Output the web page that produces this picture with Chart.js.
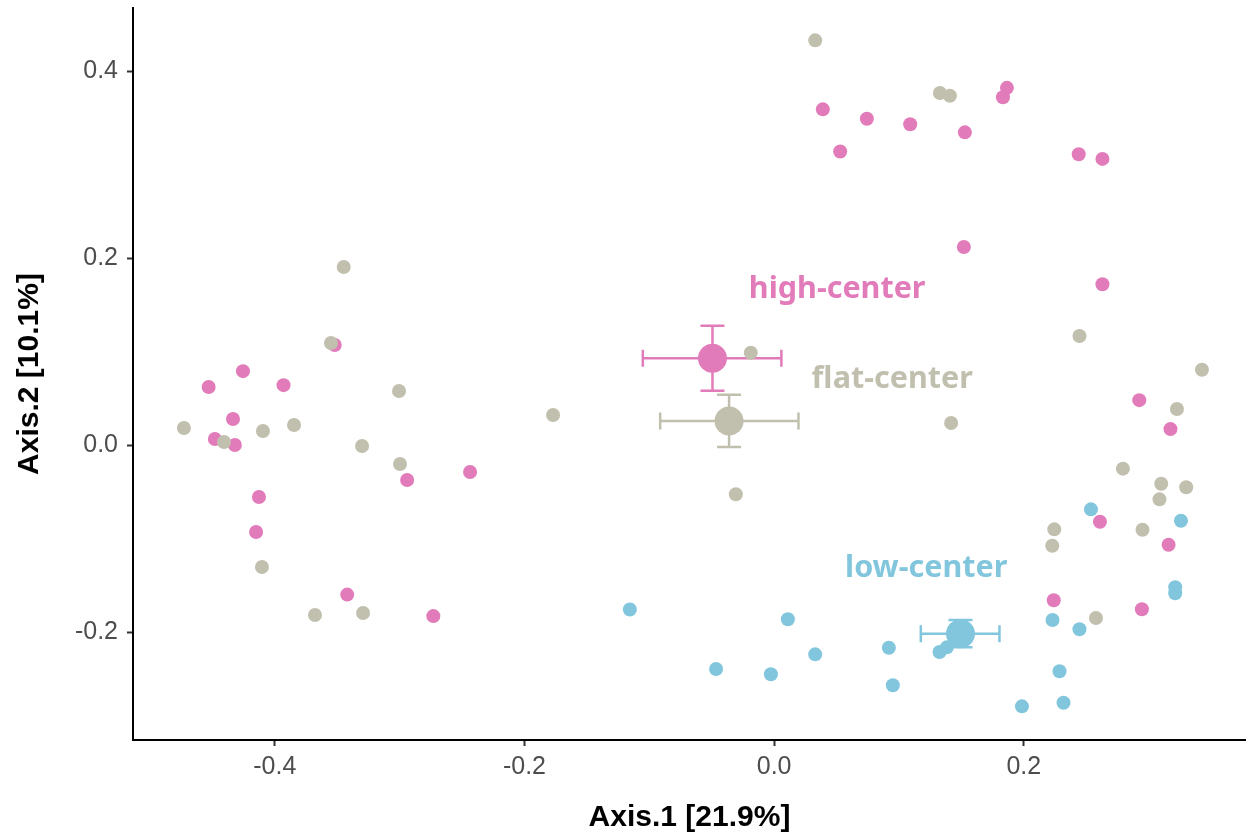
<!DOCTYPE html>
<html>
<head>
<meta charset="utf-8">
<script src="https://cdn.jsdelivr.net/npm/chart.js@4"></script>
<style>
  html, body { margin: 0; padding: 0; background: #fff; }
  canvas { display: block; }
</style>
</head>
<body>
<canvas id="pcoaChart" width="1246" height="839"></canvas>
<script>
// Groups and their colours
const groups = ['high-center', 'flat-center', 'low-center'];
const groupColors = ['#E27BBA', '#C1C0AE', '#82C6DD'];

// Sample scores (Axis.1, Axis.2)
const highX = [-0.352, -0.4255, -0.453, -0.393, -0.4335, -0.448, -0.432, -0.294, -0.2436, -0.4127, -0.415, -0.342, -0.273,
  0.039, 0.0743, 0.0529, 0.109, 0.1528, 0.1865, 0.1833, 0.244, 0.263, 0.152, 0.263, 0.2925, 0.3175, 0.261, 0.316, 0.224, 0.2946];
const highY = [0.107, 0.079, 0.062, 0.064, 0.0278, 0.0064, 0.000, -0.0374, -0.0289, -0.0556, -0.093, -0.160, -0.183,
  0.359, 0.349, 0.314, 0.343, 0.3344, 0.382, 0.372, 0.311, 0.306, 0.2118, 0.172, 0.048, 0.017, -0.082, -0.1066, -0.166, -0.1757];

const flatX = [0.0329, -0.3448, -0.355, -0.0187, -0.3005, -0.1771, -0.4728, -0.4407, -0.4095, -0.3846, -0.3301, -0.2997, -0.0307,
  -0.4103, -0.3678, -0.3293, 0.1328, 0.1408, 0.2446, 0.3427, 0.1418, 0.3227, 0.2794, 0.3101, 0.3301, 0.3087, 0.2951, 0.2244, 0.2228, 0.2578];
const flatY = [0.4328, 0.1904, 0.1091, 0.0987, 0.0578, 0.0321, 0.0182, 0.0032, 0.015, 0.0214, -0.0011, -0.0203, -0.0527,
  -0.1305, -0.1818, -0.1797, 0.3765, 0.3736, 0.1166, 0.0805, 0.0235, 0.0385, -0.0253, -0.0414, -0.0452, -0.0581, -0.0906, -0.0902, -0.1077, -0.185];

const lowX = [-0.1156, 0.011, -0.0465, -0.0026, 0.0329, 0.0919, 0.0951, 0.1325, 0.1384, 0.1985, 0.2538, 0.3259, 0.3213, 0.3213, 0.223, 0.2446, 0.2286, 0.2318];
const lowY = [-0.176, -0.1864, -0.2396, -0.2452, -0.2239, -0.2168, -0.257, -0.2214, -0.2164, -0.2795, -0.0688, -0.081, -0.1522, -0.1586, -0.1872, -0.1971, -0.242, -0.2756];

// Group centroids with error ranges (high, flat, low)
const centroidX = [-0.0494, -0.0361, 0.1493];
const centroidY = [0.0927, 0.0257, -0.2018];
const xErrLo = [-0.1052, -0.0913, 0.1175];
const xErrHi = [0.0058, 0.0195, 0.1805];
const yErrLo = [0.0581, -0.0021, -0.2164];
const yErrHi = [0.1276, 0.0538, -0.1872];

// Tick labels
const xTicks = [-0.4, -0.2, 0.0, 0.2];
const yTicks = [-0.2, 0.0, 0.2, 0.4];

// Where the group names sit (data units, centre of text baseline)
const labelAnchors = [[0.0505, 0.1572], [0.0946, 0.061], [0.1218, -0.1412]];

function toPoints(xs, ys) {
  return xs.map((x, i) => ({ x: x, y: ys[i] }));
}

const errorBars = {
  id: 'errorBars',
  beforeDatasetsDraw(chart) {
    const ctx = chart.ctx;
    const xs = chart.scales.x, ys = chart.scales.y;
    ctx.save();
    ctx.lineWidth = 2.5;
    centroidX.forEach((cx, i) => {
      const px = xs.getPixelForValue(cx), py = ys.getPixelForValue(centroidY[i]);
      const x0 = xs.getPixelForValue(xErrLo[i]), x1 = xs.getPixelForValue(xErrHi[i]);
      const y0 = ys.getPixelForValue(yErrLo[i]), y1 = ys.getPixelForValue(yErrHi[i]);
      ctx.strokeStyle = groupColors[i];
      ctx.beginPath();
      // horizontal bar + caps
      ctx.moveTo(x0, py); ctx.lineTo(x1, py);
      ctx.moveTo(x0, py - 8.5); ctx.lineTo(x0, py + 8.5);
      ctx.moveTo(x1, py - 8.5); ctx.lineTo(x1, py + 8.5);
      // vertical bar + caps
      ctx.moveTo(px, y0); ctx.lineTo(px, y1);
      ctx.moveTo(px - 12, y0); ctx.lineTo(px + 12, y0);
      ctx.moveTo(px - 12, y1); ctx.lineTo(px + 12, y1);
      ctx.stroke();
    });
    ctx.restore();
  },
  afterDatasetsDraw(chart) {
    const ctx = chart.ctx;
    const xs = chart.scales.x, ys = chart.scales.y;
    ctx.save();
    ctx.font = 'bold 30.5px "Noto Sans"';
    ctx.textAlign = 'center';
    ctx.textBaseline = 'alphabetic';
    groups.forEach((g, i) => {
      ctx.fillStyle = groupColors[i];
      ctx.fillText(g, xs.getPixelForValue(labelAnchors[i][0]), ys.getPixelForValue(labelAnchors[i][1]));
    });
    ctx.restore();
  }
};

const tickFont = { family: '"Liberation Sans", Arial, sans-serif', size: 25 };
const titleFont = { family: '"Liberation Sans", Arial, sans-serif', size: 30, weight: 'bold', lineHeight: 1 };

new Chart(document.getElementById('pcoaChart').getContext('2d'), {
  type: 'scatter',
  data: {
    datasets: [
      { label: 'centroids', data: toPoints(centroidX, centroidY), backgroundColor: groupColors, pointRadius: 14.5, borderWidth: 0 },
      { label: groups[2], data: toPoints(lowX, lowY), backgroundColor: groupColors[2], pointRadius: 7, borderWidth: 0 },
      { label: groups[1], data: toPoints(flatX, flatY), backgroundColor: groupColors[1], pointRadius: 7, borderWidth: 0 },
      { label: groups[0], data: toPoints(highX, highY), backgroundColor: groupColors[0], pointRadius: 7, borderWidth: 0 }
    ]
  },
  options: {
    responsive: false,
    animation: false,
    events: [],
    layout: { autoPadding: false, padding: { top: 8, right: 0, left: 0, bottom: 0 } },
    plugins: { legend: { display: false }, tooltip: { enabled: false } },
    scales: {
      x: {
        type: 'linear',
        min: -0.5136,
        max: 0.378,
        afterBuildTicks: s => { s.ticks = xTicks.map(v => ({ value: v })); },
        afterFit: s => { s.height = 99; s.paddingLeft = 0; s.paddingRight = 0; },
        ticks: { font: tickFont, color: '#4D4D4D', padding: 6, callback: v => v.toFixed(1) },
        grid: { display: true, drawOnChartArea: false, drawTicks: true, tickLength: 6, tickWidth: 2, tickColor: '#333333' },
        border: { display: true, color: '#000000', width: 2 },
        title: { display: true, text: 'Axis.1 [21.9%]', font: titleFont, color: '#000000', padding: { top: 0, bottom: 6 } }
      },
      y: {
        type: 'linear',
        min: -0.3155,
        max: 0.4674,
        afterBuildTicks: s => { s.ticks = yTicks.map(v => ({ value: v })); },
        afterFit: s => { s.width = 133; s.paddingTop = 0; s.paddingBottom = 0; },
        ticks: { font: tickFont, color: '#4D4D4D', padding: 9, callback: v => v.toFixed(1) },
        grid: { display: true, drawOnChartArea: false, drawTicks: true, tickLength: 6, tickWidth: 2, tickColor: '#333333' },
        border: { display: true, color: '#000000', width: 2 },
        title: { display: true, text: 'Axis.2 [10.1%]', font: titleFont, color: '#000000', padding: { top: 15, bottom: 0 } }
      }
    }
  },
  plugins: [errorBars]
});
</script>
</body>
</html>
